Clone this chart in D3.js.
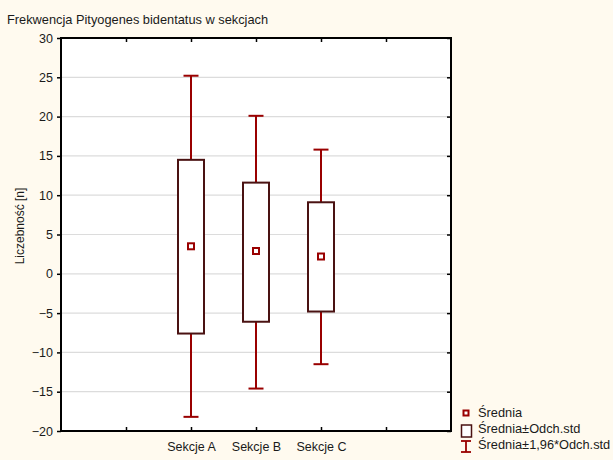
<!DOCTYPE html>
<html>
<head>
<meta charset="utf-8">
<script src="https://cdn.jsdelivr.net/npm/d3@7"></script>
<style>
	body { margin: 0; background: #fffaef; }
	svg { display: block; }
</style>
</head>
<body>
<div id="chart"></div>
<script>
// values
const categories = ["Sekcje A", "Sekcje B", "Sekcje C"];
const means = [3.5, 2.9, 2.2];
const boxLow = [-7.6, -6.1, -4.8];
const boxHigh = [14.5, 11.6, 9.1];
const whiskerLow = [-18.2, -14.6, -11.5];
const whiskerHigh = [25.2, 20.1, 15.8];
const yTicks = [-20, -15, -10, -5, 0, 5, 10, 15, 20, 25, 30];
const legendLabels = ["Średnia", "Średnia±Odch.std", "Średnia±1,96*Odch.std"];

const width = 613, height = 460;
const margin = { top: 38, left: 61, right: 162, bottom: 29 };
const plotW = width - margin.left - margin.right;
const plotH = height - margin.top - margin.bottom;
const boxColor = "#4a1212";
const whiskerColor = "#990000";
const textCol = "#1a1a1a";
const font = "'Liberation Sans', Arial, sans-serif";

const svg = d3.select("#chart").append("svg")
	.attr("width", width)
	.attr("height", height);

svg.append("rect")
	.attr("width", width)
	.attr("height", height)
	.attr("fill", "#fffaef");

// category slots: two empty on each side, the three sections in the middle
const x = d3.scaleLinear().domain([0, 6]).range([margin.left, margin.left + plotW]);
const y = d3.scaleLinear().domain([-20, 30]).range([margin.top + plotH, margin.top]);

const data = categories.map((c, i) => ({
	name: c,
	slot: i + 2,
	mean: means[i],
	lo: boxLow[i],
	hi: boxHigh[i],
	wlo: whiskerLow[i],
	whi: whiskerHigh[i]
}));

svg.append("rect")
	.attr("x", margin.left)
	.attr("y", margin.top)
	.attr("width", plotW)
	.attr("height", plotH)
	.attr("fill", "white");

// grid
svg.append("g")
	.selectAll("line")
	.data(yTicks.filter(t => t > -20 && t < 30))
	.enter()
	.append("line")
	.attr("x1", margin.left)
	.attr("x2", margin.left + plotW)
	.attr("y1", d => y(d))
	.attr("y2", d => y(d))
	.attr("stroke", "#dcdcdc")
	.attr("stroke-width", 1.2);

// whiskers
const whisk = svg.append("g")
	.attr("stroke", whiskerColor)
	.attr("stroke-width", 2);

whisk.selectAll("line.up")
	.data(data)
	.enter()
	.append("line")
	.attr("x1", d => x(d.slot))
	.attr("x2", d => x(d.slot))
	.attr("y1", d => y(d.whi))
	.attr("y2", d => y(d.hi));

whisk.selectAll("line.down")
	.data(data)
	.enter()
	.append("line")
	.attr("x1", d => x(d.slot))
	.attr("x2", d => x(d.slot))
	.attr("y1", d => y(d.lo))
	.attr("y2", d => y(d.wlo));

whisk.selectAll("line.captop")
	.data(data)
	.enter()
	.append("line")
	.attr("x1", d => x(d.slot) - 7.5)
	.attr("x2", d => x(d.slot) + 7.5)
	.attr("y1", d => y(d.whi))
	.attr("y2", d => y(d.whi));

whisk.selectAll("line.capbot")
	.data(data)
	.enter()
	.append("line")
	.attr("x1", d => x(d.slot) - 7.5)
	.attr("x2", d => x(d.slot) + 7.5)
	.attr("y1", d => y(d.wlo))
	.attr("y2", d => y(d.wlo));

// boxes
svg.append("g")
	.selectAll("rect")
	.data(data)
	.enter()
	.append("rect")
	.attr("x", d => x(d.slot) - 13)
	.attr("y", d => y(d.hi))
	.attr("width", 26)
	.attr("height", d => y(d.lo) - y(d.hi))
	.attr("fill", "white")
	.attr("stroke", boxColor)
	.attr("stroke-width", 2);

// means
svg.append("g")
	.selectAll("rect")
	.data(data)
	.enter()
	.append("rect")
	.attr("x", d => x(d.slot) - 3)
	.attr("y", d => y(d.mean) - 3)
	.attr("width", 6)
	.attr("height", 6)
	.attr("fill", "white")
	.attr("stroke", whiskerColor)
	.attr("stroke-width", 2);

// axes
const axisLeft = svg.append("g")
	.attr("transform", `translate(${margin.left},0)`)
	.call(d3.axisLeft(y).tickValues(yTicks).tickSize(4).tickPadding(4));
const axisRight = svg.append("g")
	.attr("transform", `translate(${margin.left + plotW},0)`)
	.call(d3.axisRight(y).tickValues(yTicks).tickSize(-4).tickFormat(""));
const axisTop = svg.append("g")
	.attr("transform", `translate(0,${margin.top})`)
	.call(d3.axisTop(x).tickValues([1, 2, 3, 4, 5]).tickSize(-4).tickFormat(""));
const axisBottom = svg.append("g")
	.attr("transform", `translate(0,${margin.top + plotH})`)
	.call(d3.axisBottom(x).tickValues([1, 2, 3, 4, 5]).tickSize(-4)
		.tickFormat(d => categories[d - 2] || "").tickPadding(11));

[axisLeft, axisRight, axisTop, axisBottom].forEach(a => {
	a.select(".domain").remove();
	a.selectAll("line").attr("stroke", "#000").attr("stroke-width", 1.5);
	a.selectAll("text")
		.attr("fill", textCol)
		.style("font-family", font)
		.style("font-size", "12.5px");
});

svg.append("rect")
	.attr("x", margin.left)
	.attr("y", margin.top)
	.attr("width", plotW)
	.attr("height", plotH)
	.attr("fill", "none")
	.attr("stroke", "#000")
	.attr("stroke-width", 2);

// title and y label
svg.append("text")
	.attr("x", 7)
	.attr("y", 24)
	.text("Frekwencja Pityogenes bidentatus w sekcjach")
	.attr("fill", textCol)
	.style("font-family", font)
	.style("font-size", "12.8px");

svg.append("text")
	.attr("transform", "translate(24,226) rotate(-90)")
	.attr("text-anchor", "middle")
	.text("Liczebność [n]")
	.attr("fill", textCol)
	.style("font-family", font)
	.style("font-size", "12px");

// legend
const legend = svg.append("g").attr("transform", "translate(461,0)");
legend.append("rect")
	.attr("x", 2.5).attr("y", 410.5).attr("width", 5).attr("height", 5)
	.attr("fill", "white").attr("stroke", whiskerColor).attr("stroke-width", 2);
legend.append("rect")
	.attr("x", 0.5).attr("y", 425).attr("width", 10).attr("height", 12)
	.attr("fill", "white").attr("stroke", boxColor).attr("stroke-width", 1.5);
const leg3 = legend.append("g").attr("stroke", whiskerColor).attr("stroke-width", 1.8);
leg3.append("line").attr("x1", 5).attr("x2", 5).attr("y1", 441).attr("y2", 452);
leg3.append("line").attr("x1", 0).attr("x2", 10).attr("y1", 441).attr("y2", 441);
leg3.append("line").attr("x1", 0).attr("x2", 10).attr("y1", 452).attr("y2", 452);

legend.selectAll("text")
	.data(legendLabels)
	.enter()
	.append("text")
	.attr("x", 17)
	.attr("y", (d, i) => 417 + i * 16)
	.text(d => d)
	.attr("fill", textCol)
	.style("font-family", font)
	.style("font-size", "12.8px");
</script>
</body>
</html>
